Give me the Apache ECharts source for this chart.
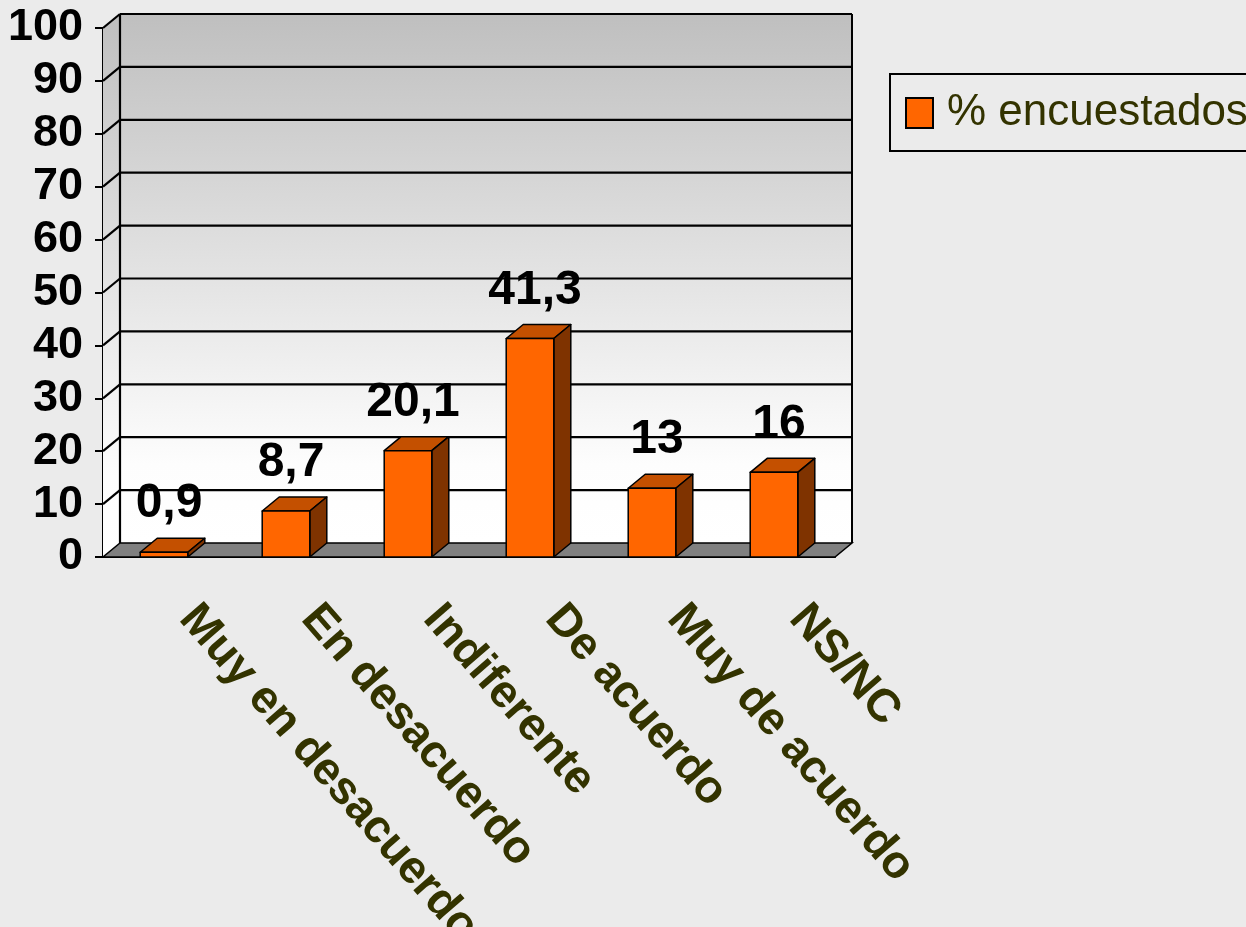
<!DOCTYPE html>
<html><head><meta charset="utf-8">
<script src="https://cdn.jsdelivr.net/npm/echarts@6/dist/echarts.min.js"></script>
<style>html,body{margin:0;padding:0;background:#ebebeb}#c{width:1246px;height:927px}</style>
</head><body><div id="c"></div>
<script>
const categories = ['Muy en desacuerdo', 'En desacuerdo', 'Indiferente', 'De acuerdo', 'Muy de acuerdo', 'NS/NC'];
const values = [0.9, 8.7, 20.1, 41.3, 13, 16];
const seriesName = '% encuestados';
const yTicks = [0, 10, 20, 30, 40, 50, 60, 70, 80, 90, 100];

const DX = 17, DY = -14;
const FONT = '"Liberation Sans", Arial, Helvetica, sans-serif';

function backdrop(params, api) {
  const cs = params.coordSys;
  const x0 = cs.x, x1 = cs.x + cs.width;
  const y0 = api.coord([0, 0])[1];
  const yT = api.coord([0, 100])[1];
  const grad = () => new echarts.graphic.LinearGradient(0, 0, 0, 1, [
    { offset: 0, color: '#bfbfbf' }, { offset: 0.85, color: '#fdfdfd' }, { offset: 1, color: '#ffffff' }]);
  const children = [];
  children.push({ type: 'polygon', shape: { points: [[x0, yT], [x0 + DX, yT + DY], [x0 + DX, y0 + DY], [x0, y0]] },
    style: { fill: grad(), stroke: null } });
  children.push({ type: 'rect', shape: { x: x0 + DX, y: yT + DY, width: x1 - x0, height: y0 - yT },
    style: { fill: grad(), stroke: null } });
  children.push({ type: 'polygon', shape: { points: [[x0, y0], [x1, y0], [x1 + DX, y0 + DY], [x0 + DX, y0 + DY]] },
    style: { fill: '#808080', stroke: '#000', lineWidth: 1.5 } });
  yTicks.forEach(t => {
    if (t === 0) return;
    const y = api.coord([0, t])[1];
    children.push({ type: 'line', shape: { x1: x0 + DX, y1: y + DY, x2: x1 + DX, y2: y + DY },
      style: { stroke: '#000', lineWidth: 2.2 } });
    children.push({ type: 'line', shape: { x1: x0, y1: y, x2: x0 + DX, y2: y + DY },
      style: { stroke: '#000', lineWidth: 2.2 } });
  });
  children.push({ type: 'line', shape: { x1: x0 + DX, y1: yT + DY, x2: x0 + DX, y2: y0 + DY },
    style: { stroke: '#000', lineWidth: 2.2 } });
  children.push({ type: 'line', shape: { x1: x1 + DX, y1: yT + DY, x2: x1 + DX, y2: y0 + DY },
    style: { stroke: '#000', lineWidth: 2 } });
  return { type: 'group', children };
}

function fmt(v) { return String(v).replace('.', ','); }

function bar(params, api) {
  const i = api.value(0), v = api.value(1);
  const top = api.coord([i, v]);
  const base = api.coord([i, 0]);
  const bw = api.size([1, 0])[0] * 0.39;
  const xl = top[0] - bw / 2, xr = top[0] + bw / 2;
  const yt = top[1], yb = base[1];
  const st = { stroke: '#000', lineWidth: 1.5, lineJoin: 'round' };
  return { type: 'group', children: [
    { type: 'polygon', shape: { points: [[xl, yt], [xr, yt], [xr + DX, yt + DY], [xl + DX, yt + DY]] },
      style: Object.assign({ fill: '#c45000' }, st) },
    { type: 'polygon', shape: { points: [[xr, yt], [xr + DX, yt + DY], [xr + DX, yb + DY], [xr, yb]] },
      style: Object.assign({ fill: '#7f3300' }, st) },
    { type: 'rect', shape: { x: xl, y: yt, width: bw, height: yb - yt },
      style: Object.assign({ fill: '#ff6600' }, st) },
    { type: 'text', x: top[0] + 5, y: yt - 48,
      style: { text: fmt(v), fill: '#000', font: 'bold 48px ' + FONT, align: 'center', verticalAlign: 'middle' } }
  ] };
}

const chart = echarts.init(document.getElementById('c'), null, { renderer: 'canvas' });
chart.setOption({
  backgroundColor: '#ebebeb',
  animation: false,
  grid: { left: 103, right: 411, top: 28, bottom: 370, containLabel: false, outerBoundsMode: 'none' },
  legend: {
    left: 890, top: 74, data: [{ name: seriesName, icon: 'rect' }],
    itemWidth: 27, itemHeight: 30,
    itemStyle: { color: '#ff6600', borderColor: '#000', borderWidth: 2 },
    textStyle: { fontSize: 44, color: '#333300', fontFamily: FONT, padding: [0, 0, 0, 9] },
    borderColor: '#000', borderWidth: 2, padding: [17, 20, 16, 15], selectedMode: false
  },
  xAxis: {
    type: 'category', data: categories,
    axisLine: { lineStyle: { color: '#000', width: 2 } },
    axisTick: { length: 9, lineStyle: { color: '#000', width: 2 } },
    axisLabel: { interval: 0, rotate: -49, margin: 27, padding: [0, 0, 0, 36], color: '#333300',
      fontWeight: 'bold', fontSize: 46, fontFamily: FONT },
    splitLine: { show: false }
  },
  yAxis: {
    type: 'value', min: 0, max: 100, interval: 10,
    axisLine: { show: true, lineStyle: { color: '#000', width: 2 } },
    axisTick: { show: true, length: 8, lineStyle: { color: '#000', width: 2 } },
    axisLabel: { margin: 20, fontSize: 45, fontWeight: 'bold', color: '#000', fontFamily: FONT },
    splitLine: { show: false }
  },
  series: [
    { type: 'custom', name: 'backdrop', silent: true, data: [0], renderItem: backdrop, z: 1, clip: false },
    { type: 'custom', name: seriesName, data: values.map((v, i) => [i, v]), renderItem: bar, z: 3, clip: false,
      itemStyle: { color: '#ff6600', borderColor: '#000', borderWidth: 1.5 } }
  ]
});
</script></body></html>
